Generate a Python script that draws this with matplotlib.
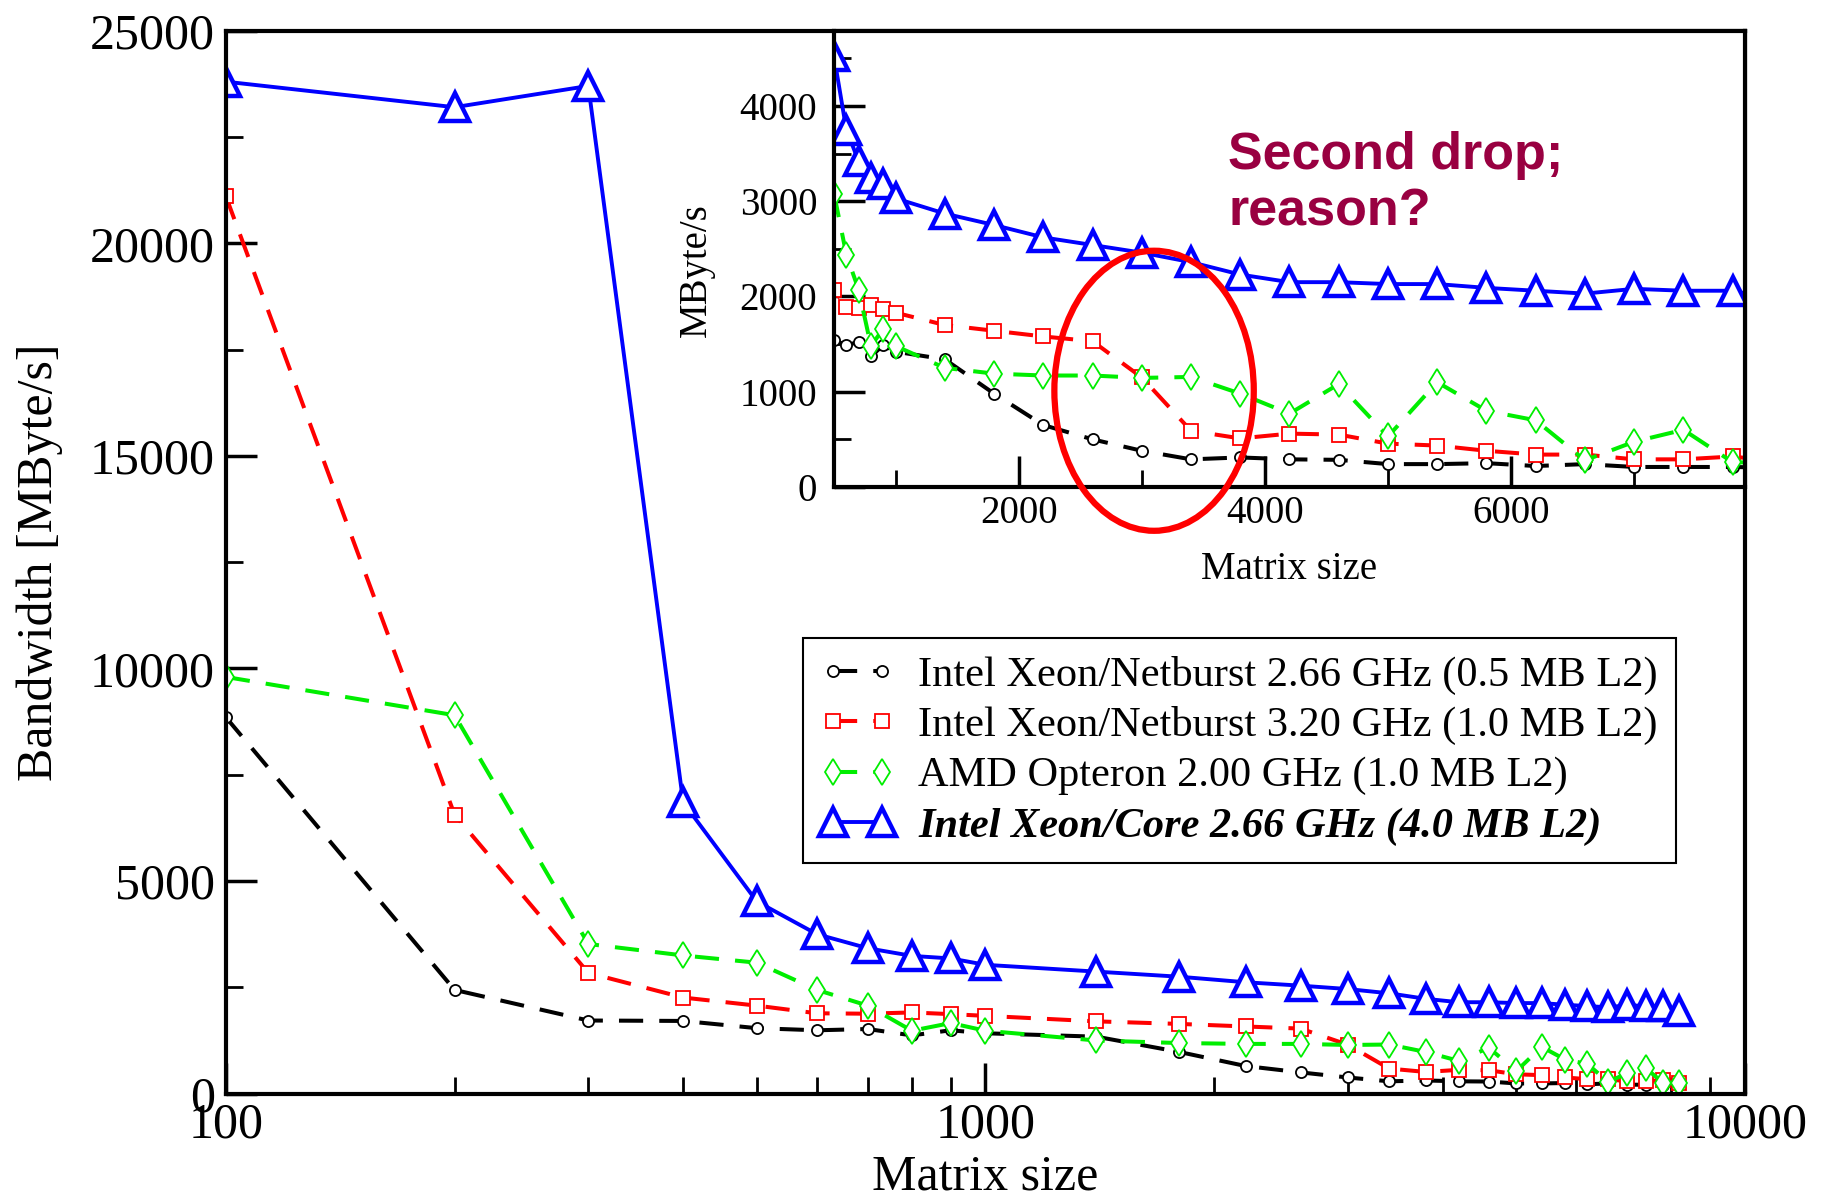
import matplotlib
matplotlib.use("Agg")
import matplotlib.pyplot as plt
from matplotlib.patches import Ellipse
from matplotlib.ticker import FixedLocator, MultipleLocator, NullFormatter

plt.rcParams["font.family"] = ["Liberation Serif", "DejaVu Serif"]

# Matrix sizes (same for all four machines)
sizes = [100, 200, 300, 400, 500, 600, 700, 800, 900, 1000,
         1400, 1800, 2200, 2600, 3000, 3400, 3800, 4200, 4600, 5000,
         5400, 5800, 6200, 6600, 7000, 7400, 7800, 8200]

# Bandwidth [MByte/s]
xeon_nb_266 = [8850, 2440, 1720, 1710, 1540, 1490, 1520, 1370, 1490, 1420,
               1340, 980, 650, 500, 380, 290, 310, 290, 285, 240,
               240, 250, 220, 240, 210, 210, 210, 200]
xeon_nb_320 = [21100, 6560, 2840, 2260, 2070, 1890, 1880, 1910, 1870, 1830,
               1700, 1640, 1580, 1530, 1150, 590, 510, 560, 550, 455,
               435, 380, 340, 340, 290, 290, 320, 260]
opteron_200 = [9800, 8900, 3520, 3250, 3080, 2440, 2070, 1480, 1660, 1480,
               1250, 1190, 1170, 1170, 1145, 1155, 980, 770, 1080, 530,
               1100, 800, 700, 280, 475, 600, 260, 250]
xeon_core_266 = [23800, 23200, 23700, 6850, 4520, 3750, 3420, 3240, 3180, 3030,
                 2870, 2750, 2620, 2540, 2460, 2360, 2230, 2150, 2150, 2130,
                 2130, 2090, 2060, 2030, 2080, 2060, 2060, 1950]

labels = [
    "Intel Xeon/Netburst 2.66 GHz (0.5 MB L2)",
    "Intel Xeon/Netburst 3.20 GHz (1.0 MB L2)",
    "AMD Opteron 2.00 GHz (1.0 MB L2)",
    "Intel Xeon/Core 2.66 GHz (4.0 MB L2)",
]

SERIES = [
    dict(y=xeon_nb_266, color="black", marker="o", ms=8, mew=1.3, ls=(0, (6, 4)), lw=2.9),
    dict(y=xeon_nb_320, color="red", marker="s", ms=10, mew=1.3, ls=(0, (6, 4)), lw=2.9),
    dict(y=opteron_200, color="#00ee00", marker="d", ms=13, mew=1.3, ls=(0, (6, 4)), lw=2.9),
    dict(y=xeon_core_266, color="blue", marker="^", ms=20, mew=3.2, ls="-", lw=2.8),
]

# ellipse marking the second drop (inset data coords)
RING_CENTER = (3100, 1010)
RING_W, RING_H = 1620, 2940


def draw_series(ax):
    lines = []
    for spec, lab in zip(SERIES, labels):
        ln, = ax.plot(sizes, spec["y"], color=spec["color"], linestyle=spec["ls"],
                      linewidth=spec["lw"], marker=spec["marker"],
                      markersize=spec["ms"], markeredgewidth=spec["mew"],
                      markerfacecolor="white", markeredgecolor=spec["color"],
                      label=lab)
        lines.append(ln)
    return lines


def style_axes(ax, fs, ypad):
    for sp in ax.spines.values():
        sp.set_linewidth(3.0)
    ax.tick_params(which="both", direction="in", top=False, right=False,
                   labelsize=fs)
    ax.tick_params(axis="x", which="both", pad=6)
    ax.tick_params(axis="y", which="both", pad=ypad)
    ax.tick_params(which="major", length=22, width=2.5)
    ax.tick_params(which="minor", length=12, width=2.0)


fig = plt.figure(figsize=(18.31, 12.03), dpi=100)

# ---- main axes
ax = fig.add_axes([0.1234, 0.0909, 0.8296, 0.8836])
handles = draw_series(ax)
ax.set_xscale("log")
ax.set_xlim(100, 10000)
ax.set_ylim(0, 25000)
ax.yaxis.set_major_locator(MultipleLocator(5000))
ax.yaxis.set_minor_locator(MultipleLocator(2500))
ax.xaxis.set_major_locator(FixedLocator([100, 1000, 10000]))
ax.xaxis.set_minor_locator(FixedLocator([m * d for d in (100, 1000) for m in range(2, 10)]))
ax.xaxis.set_minor_formatter(NullFormatter())
ax.set_xticklabels(["100", "1000", "10000"])
style_axes(ax, 36, 8)
ax.set_xlabel("Matrix size", fontsize=36)
ax.set_ylabel("Bandwidth [MByte/s]", fontsize=36)
ax.xaxis.set_label_coords(0.5, -0.057)
ax.yaxis.set_label_coords(-0.107, 0.5)

leg = ax.legend(handles=handles, loc="upper left",
                bbox_to_anchor=(803 / 1831, 1 - 638 / 1203),
                bbox_transform=fig.transFigure, borderaxespad=0,
                fontsize=30.5, numpoints=2, handlelength=1.75, handletextpad=0.55,
                labelspacing=0.27, borderpad=0.42, fancybox=False,
                framealpha=1, edgecolor="black")
leg.get_frame().set_linewidth(1.5)
last = leg.get_texts()[3]
last.set_fontweight("bold")
last.set_fontstyle("italic")

# ---- inset
ins = fig.add_axes([0.4555, 0.5952, 0.4975, 0.3793])
ins.set_facecolor("white")
draw_series(ins)
ins.set_xlim(500, 7900)
ins.set_ylim(0, 4790)
ins.yaxis.set_major_locator(FixedLocator([0, 1000, 2000, 3000, 4000]))
ins.yaxis.set_minor_locator(FixedLocator([500, 1500, 2500, 3500, 4500]))
ins.xaxis.set_major_locator(FixedLocator([2000, 4000, 6000]))
ins.xaxis.set_minor_locator(FixedLocator([1000, 3000, 5000, 7000]))
style_axes(ins, 28, 12)
ins.set_xlabel("Matrix size", fontsize=28)
ins.set_ylabel("MByte/s", fontsize=28)
ins.xaxis.set_label_coords(0.5, -0.14)
ins.yaxis.set_label_coords(-0.131, 0.476)

ring = Ellipse(RING_CENTER, RING_W, RING_H, transform=ins.transData,
               fill=False, edgecolor="red", linewidth=4.5, clip_on=False, zorder=10)
ins.add_patch(ring)

fig.text(1228 / 1831, 1 - 131 / 1203, "Second drop;\nreason?",
         family="Liberation Sans", fontweight="bold", fontsize=37.5,
         color="#990041", ha="left", va="top", linespacing=1.2)

fig.savefig("out.png", dpi=100)
